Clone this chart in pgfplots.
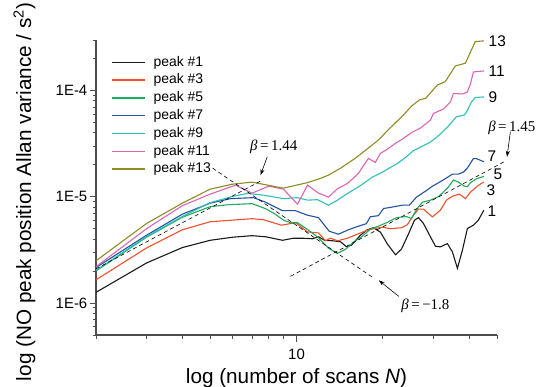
\documentclass[border=0pt]{standalone}
\usepackage{fontspec}
\setmainfont{Liberation Sans}
\newfontfamily\serifb{Liberation Serif}
\usepackage{pgfplots}
\pgfplotsset{compat=1.18}
\usetikzlibrary{arrows.meta}
\definecolor{c1}{HTML}{1A1A1A}
\definecolor{c3}{HTML}{F0502D}
\definecolor{c5}{HTML}{1FAA5C}
\definecolor{c7}{HTML}{2352A3}
\definecolor{c9}{HTML}{2EC0B6}
\definecolor{c11}{HTML}{D966B4}
\definecolor{c13}{HTML}{8C8C22}
\definecolor{axgray}{HTML}{4D4D4D}
\begin{document}
\begin{tikzpicture}
\begin{axis}[
  at={(0,0)}, anchor=south west,
  scale only axis, width=401bp, height=295bp,
  xmode=log, ymode=log,
  xmin=2, xmax=50, ymin=5e-7, ymax=3e-4,
  axis x line*=bottom, axis y line*=left,
  axis line style={-, draw=axgray, line width=1.1bp},
  tick align=outside,
  xtick={10}, xticklabels={10},
  minor xtick={2,3,4,5,6,7,8,9,20,30,40,50},
  ytick={1e-6,1e-5,1e-4}, yticklabels={1E-6,1E-5,1E-4},
  minor ytick={5e-7,6e-7,7e-7,8e-7,9e-7,2e-6,3e-6,4e-6,5e-6,6e-6,7e-6,8e-6,9e-6,2e-5,3e-5,4e-5,5e-5,6e-5,7e-5,8e-5,9e-5,2e-4,3e-4},
  major tick length=6.5bp, minor tick length=3.5bp,
  every tick/.style={draw=axgray, line width=1bp},
  tick label style={font=\fontsize{15}{15}\selectfont},
  yticklabel style={inner sep=0pt, xshift=-2bp},
  xticklabel style={inner sep=0pt, yshift=-7bp},
  xlabel={log (number of scans \textit{N})},
  ylabel={log (NO peak position Allan variance / s\textsuperscript{2})},
  label style={font=\fontsize{20.8}{20.8}\selectfont},
  xlabel style={at={(axis description cs:0.5,-0.166)}, anchor=base, inner sep=0pt},
  ylabel style={at={(axis description cs:-0.162,0.485)}, anchor=base, inner sep=0pt},
  clip=false,
  legend style={at={(axis description cs:0.039,0.9546)}, anchor=north west,
    draw=none, fill=none, inner sep=0pt, outer sep=0pt, row sep=0pt, column sep=0pt,
    font=\fontsize{14}{14}\selectfont,
    nodes={inner xsep=8bp, inner ysep=0pt, text height=12.8bp, text depth=5bp}},
  legend cell align=left,
  legend image code/.code={\draw[#1, line width=1.3bp] (0bp,0bp) -- (32.6bp,0bp);},
  every axis plot/.append style={line width=1.1bp},
]
\addplot[c1] coordinates {(2,1.261e-6)(3,2.384e-6)(4,3.33e-6)(5,3.90e-6)(6,4.17e-6)(7,4.31e-6)(7.8,4.21e-6)(8.94,3.90e-6)(9.76,4.08e-6)(10.49,4.08e-6)(11.37,4.03e-6)(11.93,4.21e-6)(12.52,3.90e-6)(13.35,3.86e-6)(14.23,3.78e-6)(14.94,3.39e-6)(15.54,3.50e-6)(16.70,4.35e-6)(17.66,4.90e-6)(18.53,5.12e-6)(19.62,4.65e-6)(20.77,3.58e-6)(22.13,2.85e-6)(23.21,3.21e-6)(24.55,4.45e-6)(25.78,6.03e-6)(26.62,6.37e-6)(27.71,5.61e-6)(29.31,4.20e-6)(30.51,3.43e-6)(31.75,3.38e-6)(33.58,3.63e-6)(34.96,3.03e-6)(36.39,2.125e-6)(37.88,3.14e-6)(39.42,5.03e-6)(41.37,5.41e-6)(43.05,6.03e-6)(45,7.49e-6)};
\addlegendentry{peak \#1}
\addplot[c3] coordinates {(2,1.655e-6)(3,3.30e-6)(4,4.90e-6)(5,5.83e-6)(7,6.23e-6)(7.67,6.09e-6)(8.86,5.41e-6)(9.92,5.71e-6)(10.92,4.68e-6)(11.93,4.57e-6)(12.62,3.86e-6)(13.13,4.08e-6)(13.9,3.86e-6)(15.06,4.08e-6)(16.30,4.45e-6)(17.66,4.85e-6)(18.53,5.01e-6)(19.95,5.18e-6)(21.26,5.01e-6)(23.21,5.12e-6)(24.35,5.47e-6)(25.57,6.72e-6)(26.62,7.66e-6)(27.71,7.66e-6)(29.78,6.48e-6)(31.75,7.49e-6)(33.31,9.31e-6)(34.96,1.015e-5)(36.98,1.060e-5)(38.80,9.62e-6)(40.39,1.107e-5)(42.70,1.261e-5)(45,1.385e-5)};
\addlegendentry{peak \#3}
\addplot[c5] coordinates {(2,2.004e-6)(3,4.17e-6)(4,6.43e-6)(5,8.08e-6)(5.80,8.44e-6)(7,8.63e-6)(7.80,7.74e-6)(8.38,6.94e-6)(9.01,6.03e-6)(9.53,5.71e-6)(10.08,5.71e-6)(10.92,4.93e-6)(11.83,4.20e-6)(12.93,3.28e-6)(13.9,2.94e-6)(14.82,3.21e-6)(15.79,3.74e-6)(16.97,4.26e-6)(18.09,4.96e-6)(19.30,5.29e-6)(20.77,5.77e-6)(22.31,6.37e-6)(24.16,6.53e-6)(25.16,6.25e-6)(26.40,7.82e-6)(27.49,8.91e-6)(29.31,9.31e-6)(31.25,1.004e-5)(33.58,1.208e-5)(35.24,1.437e-5)(36.68,1.376e-5)(38.49,1.261e-5)(39.42,1.247e-5)(40.39,1.361e-5)(42.70,1.492e-5)(45,1.557e-5)};
\addlegendentry{peak \#5}
\addplot[c7] coordinates {(2,2.158e-6)(3,4.35e-6)(4,6.87e-6)(5,8.72e-6)(5.89,9.62e-6)(7.08,9.83e-6)(7.80,8.91e-6)(8.94,7.41e-6)(9.92,7.41e-6)(10.92,6.72e-6)(11.93,6.37e-6)(13.0,4.75e-6)(14.0,4.45e-6)(15.18,4.90e-6)(16.43,5.29e-6)(17.52,5.59e-6)(18.09,6.50e-6)(19.30,6.65e-6)(20.11,7.77e-6)(21.43,7.99e-6)(23.40,8.35e-6)(24.74,8.35e-6)(26.19,9.94e-6)(28.17,1.132e-5)(29.78,1.261e-5)(31.0,1.338e-5)(33.05,1.485e-5)(34.96,1.637e-5)(36.68,1.637e-5)(38.19,1.710e-5)(39.42,1.866e-5)(41.37,2.293e-5)(42.36,2.293e-5)(45,2.139e-5)};
\addlegendentry{peak \#7}
\addplot[c9] coordinates {(2,2.034e-6)(3,4.23e-6)(4,6.53e-6)(5,8.82e-6)(6.03,1.015e-5)(6.75,1.077e-5)(7.67,1.038e-5)(9.01,9.62e-6)(10.08,9.83e-6)(10.92,9.31e-6)(11.83,9.41e-6)(12.93,8.35e-6)(13.9,9.31e-6)(15.06,1.077e-5)(16.70,1.275e-5)(18.38,1.534e-5)(19.95,1.710e-5)(21.26,1.894e-5)(22.49,2.066e-5)(23.97,2.344e-5)(25.57,2.728e-5)(27.05,2.944e-5)(29.31,3.281e-5)(31.75,3.904e-5)(33.85,4.645e-5)(36.10,5.686e-5)(38.49,5.90e-5)(39.42,6.51e-5)(40.72,7.82e-5)(42.03,8.63e-5)(45,8.72e-5)};
\addlegendentry{peak \#9}
\addplot[c11] coordinates {(2,2.195e-6)(3,5.01e-6)(4,8.26e-6)(5,1.060e-5)(6.13,1.289e-5)(7,1.084e-5)(8,1.261e-5)(9,1.182e-5)(10.08,8.53e-6)(10.92,1.289e-5)(11.93,1.084e-5)(12.93,9.94e-6)(13.9,1.195e-5)(15.06,1.338e-5)(16.43,1.663e-5)(17.8,2.303e-5)(18.83,2.111e-5)(19.62,2.567e-5)(20.77,2.818e-5)(22.13,3.190e-5)(23.40,3.502e-5)(25.36,4.078e-5)(27.05,4.448e-5)(29.31,5.29e-5)(30.02,6.10e-5)(32.52,6.72e-5)(34.40,7.82e-5)(35.24,9.41e-5)(37.88,9.31e-5)(39.42,9.72e-5)(40.39,1.157e-4)(41.37,1.501e-4)(45,1.534e-4)};
\addlegendentry{peak \#11}
\addplot[c13] coordinates {(2,2.50e-6)(3,5.61e-6)(4,8.72e-6)(5,1.182e-5)(6,1.318e-5)(7,1.376e-5)(9,1.208e-5)(10.92,1.361e-5)(12.12,1.492e-5)(12.93,1.602e-5)(14.35,1.886e-5)(16.06,2.318e-5)(17.8,2.880e-5)(19.3,3.427e-5)(21.1,4.399e-5)(23.6,5.900e-5)(25.2,7.17e-5)(26.8,8.17e-5)(28.2,8.48e-5)(31.0,1.132e-4)(33.0,1.216e-4)(35.8,1.710e-4)(38.8,1.813e-4)(42.0,2.900e-4)(45,2.944e-4)};
\addlegendentry{peak \#13}
% power-law guide lines
\addplot[forget plot, black, line width=0.6bp, dash pattern=on 4bp off 3bp] coordinates {(2,2.10e-6)(7.5,1.41e-5)};
\addplot[forget plot, black, line width=0.6bp, dash pattern=on 4bp off 3bp] coordinates {(5.10,1.866e-5)(18.40,1.748e-6)};
\addplot[forget plot, black, line width=0.6bp, dash pattern=on 4bp off 3bp] coordinates {(9.53,1.786e-6)(53.5,2.172e-5)};
\draw[black, line width=0.6bp, -{Stealth[length=6bp,width=4bp]}] (axis cs:7.91,2.385e-5) -- (axis cs:7.49,1.602e-5);
\draw[black, line width=0.6bp, -{Stealth[length=6bp,width=4bp]}] (axis cs:22.72,1.156e-6) -- (axis cs:19.36,1.637e-6);
\draw[black, line width=0.6bp, -{Stealth[length=6bp,width=4bp]}] (axis cs:55.67,4.105e-5) -- (axis cs:54.2,2.385e-5);
\node[inner sep=0pt, font=\serifb\fontsize{15}{15}\selectfont] at (axis cs:8.33,2.99e-5) {\textit{β}\,=\,1.44};
\node[inner sep=0pt, font=\serifb\fontsize{15}{15}\selectfont] at (axis cs:28.15,9.51e-7) {\textit{β}\,=\,−1.8};
\node[inner sep=0pt, font=\serifb\fontsize{15}{15}\selectfont] at (axis cs:56.3,4.42e-5) {\textit{β}\,=\,1.45};
% curve labels
\node[inner sep=0pt, anchor=west, font=\fontsize{15.5}{15.5}\selectfont] at (axis cs:46.7,2.944e-4) {13};
\node[inner sep=0pt, anchor=west, font=\fontsize{15.5}{15.5}\selectfont] at (axis cs:46.7,1.511e-4) {11};
\node[inner sep=0pt, anchor=west, font=\fontsize{15.5}{15.5}\selectfont] at (axis cs:46.7,8.63e-5) {9};
\node[inner sep=0pt, anchor=west, font=\fontsize{15.5}{15.5}\selectfont] at (axis cs:46.3,2.42e-5) {7};
\node[inner sep=0pt, anchor=west, font=\fontsize{15.5}{15.5}\selectfont] at (axis cs:48.6,1.637e-5) {5};
\node[inner sep=0pt, anchor=west, font=\fontsize{15.5}{15.5}\selectfont] at (axis cs:45.9,1.157e-5) {3};
\node[inner sep=0pt, anchor=west, font=\fontsize{15.5}{15.5}\selectfont] at (axis cs:46.3,7.33e-6) {1};
\end{axis}
\pgfresetboundingbox
\path[use as bounding box] (-96bp,-52bp) rectangle (441bp,335bp);
\end{tikzpicture}
\end{document}
